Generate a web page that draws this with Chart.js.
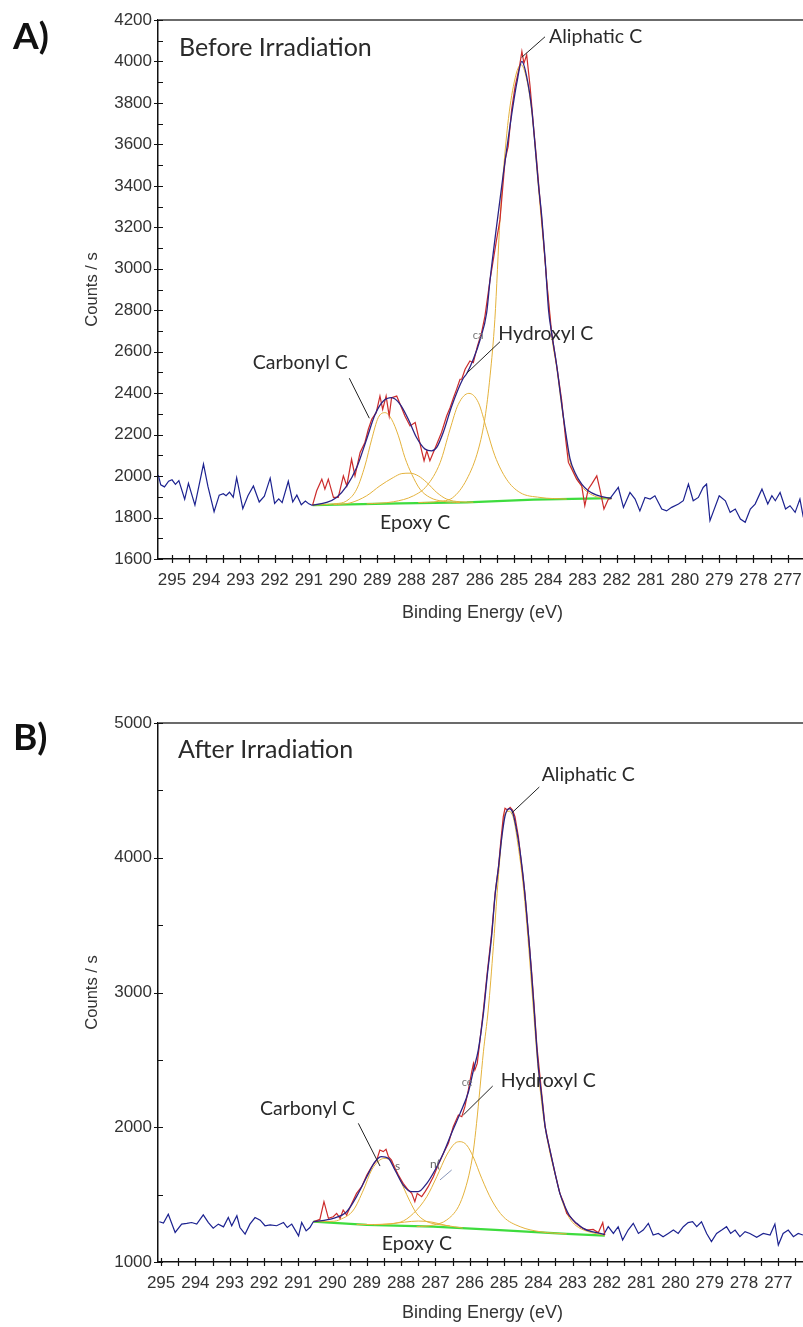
<!DOCTYPE html>
<html>
<head>
<meta charset="utf-8">
<script src="https://cdn.jsdelivr.net/npm/chart.js@4.4.0/dist/chart.umd.min.js"></script>
<style>
  html, body { margin: 0; padding: 0; background: #fff; }
  body { width: 803px; height: 1327px; position: relative; overflow: hidden; }
  canvas { position: absolute; left: 0; }
  #panelA { top: 0; }
  #panelB { top: 660px; }
</style>
</head>
<body>
<canvas id="panelA" width="815" height="650"></canvas>
<canvas id="panelB" width="815" height="667"></canvas>
<script>
// ---------- C 1s spectrum before irradiation (panel A) ----------
// [binding energy (eV), counts/s]
const rawLeftA = [
  [295.40,2005],[295.33,1958],[295.22,1948],[295.10,1975],[295.00,1982],[294.90,1960],[294.80,1978],
  [294.63,1888],[294.52,1965],[294.33,1860],[294.08,2058],[293.95,1950],[293.77,1828],[293.62,1908],
  [293.50,1915],[293.42,1905],[293.32,1922],[293.21,1898],[293.11,1992],[292.93,1843],[292.78,1905],
  [292.62,1952],[292.45,1875],[292.30,1903],[292.13,1990],[292.00,1868],[291.88,1890],[291.78,1872],
  [291.60,1975],[291.47,1875],[291.35,1908],[291.22,1862],[291.10,1880],[291.00,1866],[290.89,1858]
];
const rawRightA = [
  [282.19,1892],[281.95,1945],[281.80,1849],[281.61,1921],[281.46,1889],[281.32,1832],[281.17,1897],
  [281.02,1889],[280.88,1905],[280.68,1841],[280.54,1832],[280.39,1849],[280.19,1865],[280.05,1881],
  [279.90,1961],[279.76,1881],[279.61,1897],[279.47,1945],[279.37,1961],[279.27,1785],[279.00,1905],
  [278.82,1881],[278.68,1825],[278.53,1841],[278.38,1793],[278.24,1777],[278.09,1841],[277.95,1865],
  [277.75,1937],[277.58,1865],[277.46,1905],[277.36,1881],[277.22,1921],[277.06,1841],[276.93,1857],
  [276.78,1825],[276.64,1889],[276.54,1801]
];
const regionA = [
  [290.89,1860],[290.77,1929],[290.62,1985],[290.53,1937],[290.43,1985],[290.28,1897],[290.14,1897],
  [289.99,2001],[289.89,1953],[289.75,2081],[289.65,2001],[289.50,2114],[289.36,2162],[289.26,2226],
  [289.16,2274],[289.03,2306],[288.92,2386],[288.84,2322],[288.74,2386],[288.65,2290],[288.58,2378],
  [288.43,2386],[288.33,2346],[288.19,2290],[288.04,2242],[287.89,2258],[287.80,2194],[287.70,2122],
  [287.63,2074],[287.55,2122],[287.46,2074],[287.36,2114],[287.26,2154],[287.12,2210],[286.97,2290],
  [286.87,2330],[286.77,2378],[286.68,2418],[286.58,2467],[286.53,2467],[286.43,2515],[286.29,2555],
  [286.19,2547],[286.07,2627],[285.95,2691],[285.85,2772],[285.70,2948],[285.51,3141],[285.41,3237],
  [285.26,3526],[285.17,3590],[285.07,3767],[284.97,3879],[284.84,3975],[284.77,4048],[284.71,3991],
  [284.63,4032],[284.53,3879],[284.43,3687],[284.34,3526],[284.24,3333],[284.14,3141],[284.04,2932],
  [283.90,2691],[283.75,2531],[283.61,2370],[283.49,2178],[283.41,2066],[283.31,2033],[283.17,1985],
  [283.02,1953],[282.93,1857],[282.83,1937],[282.73,1961],[282.58,2001],[282.49,1937],[282.37,1841],
  [282.24,1889],[282.15,1892]
];
const envelopeA = [
  [290.89,1860],[290.48,1873],[290.19,1897],[289.89,1953],[289.60,2041],[289.31,2178],[289.06,2298],
  [288.82,2362],[288.58,2378],[288.33,2346],[288.09,2274],[287.85,2186],[287.60,2130],[287.41,2122],
  [287.26,2138],[287.07,2210],[286.82,2338],[286.50,2467],[286.38,2495],[286.19,2563],[285.99,2659],
  [285.80,2788],[285.70,2948],[285.51,3205],[285.31,3462],[285.12,3686],[284.92,3895],[284.77,4000],
  [284.63,3927],[284.48,3767],[284.39,3606],[284.29,3414],[284.19,3253],[284.09,3044],[283.99,2800],
  [283.90,2691],[283.75,2531],[283.65,2403],[283.56,2290],[283.46,2178],[283.36,2082],[283.22,2017],
  [283.02,1961],[282.83,1929],[282.58,1908],[282.15,1892]
];
const carbonylA = [
  [290.87,1860],[290.28,1866],[289.89,1881],[289.60,1937],[289.36,2049],[289.16,2178],[288.97,2282],
  [288.77,2306],[288.58,2274],[288.38,2194],[288.19,2089],[287.99,2009],[287.75,1937],[287.46,1897],
  [287.07,1878],[286.58,1872]
];
const epoxyA = [
  [290.28,1862],[289.80,1870],[289.31,1905],[288.92,1953],[288.53,1993],[288.28,2012],[288.04,2014],
  [287.80,2001],[287.55,1969],[287.26,1921],[286.97,1889],[286.58,1876],[286.19,1874]
];
const hydroxylA = [
  [289.31,1866],[288.53,1876],[287.94,1905],[287.55,1953],[287.16,2065],[286.87,2226],[286.63,2346],
  [286.32,2399],[286.04,2354],[285.80,2226],[285.56,2098],[285.22,1985],[284.83,1921],[284.24,1897],
  [283.46,1889]
];
const aliphaticA = [
  [287.80,1872],[287.20,1878],[286.80,1895],[286.38,1985],[286.04,2130],[285.85,2280],[285.70,2483],
  [285.56,2756],[285.41,3237],[285.21,3654],[285.02,3879],[284.80,3985],[284.63,3915],[284.48,3755],
  [284.29,3400],[284.09,3030],[283.90,2680],[283.75,2520],[283.56,2280],[283.36,2070],[283.22,2005],
  [283.02,1950],[282.83,1920],[282.58,1900],[282.15,1891]
];
const backgroundA = [[290.89,1860],[288.33,1868],[286.38,1873],[284.43,1886],[282.15,1894]];

// ---------- C 1s spectrum after irradiation (panel B) ----------
const rawLeftB = [
  [295.05,1299],[294.93,1289],[294.79,1354],[294.59,1219],[294.40,1281],[294.25,1286],[294.11,1293],
  [293.96,1281],[293.77,1350],[293.62,1293],[293.48,1251],[293.33,1281],[293.18,1261],[293.04,1330],
  [292.94,1269],[292.79,1343],[292.70,1256],[292.55,1207],[292.41,1281],[292.26,1330],[292.11,1310],
  [291.97,1269],[291.82,1276],[291.63,1269],[291.43,1293],[291.32,1256],[291.19,1281],[290.99,1194],
  [290.90,1293],[290.77,1231],[290.66,1256],[290.56,1299]
];
const rawRightB = [
  [282.10,1200],[281.96,1262],[281.81,1212],[281.67,1262],[281.54,1163],[281.38,1237],[281.23,1287],
  [281.08,1212],[280.94,1237],[280.79,1287],[280.65,1200],[280.50,1212],[280.36,1188],[280.21,1212],
  [280.06,1237],[279.92,1212],[279.77,1262],[279.63,1292],[279.50,1299],[279.38,1262],[279.24,1299],
  [279.09,1212],[278.95,1151],[278.80,1212],[278.65,1237],[278.51,1262],[278.39,1212],[278.26,1237],
  [278.12,1188],[277.97,1225],[277.83,1212],[277.63,1183],[277.44,1212],[277.24,1200],[277.10,1282],
  [277.00,1126],[276.86,1212],[276.71,1237],[276.56,1188],[276.42,1212],[276.28,1200]
];
const regionB = [
  [290.56,1299],[290.37,1316],[290.25,1448],[290.12,1324],[289.98,1336],[289.88,1361],[289.78,1324],
  [289.69,1386],[289.59,1349],[289.44,1435],[289.30,1509],[289.15,1559],[289.00,1646],[288.86,1707],
  [288.71,1757],[288.62,1831],[288.52,1819],[288.44,1836],[288.37,1782],[288.28,1757],[288.18,1695],
  [288.08,1646],[287.94,1584],[287.79,1534],[287.69,1509],[287.60,1448],[287.53,1509],[287.40,1485],
  [287.30,1522],[287.21,1559],[287.06,1633],[286.92,1720],[286.77,1806],[286.62,1881],[286.48,2004],
  [286.33,2091],[286.23,2078],[286.14,2153],[286.04,2276],[285.94,2412],[285.89,2474],[285.85,2425],
  [285.78,2474],[285.70,2647],[285.60,2870],[285.49,3142],[285.36,3439],[285.26,3736],[285.16,3933],
  [285.09,4131],[285.02,4305],[284.97,4367],[284.90,4354],[284.82,4374],[284.75,4354],[284.68,4305],
  [284.58,4156],[284.48,3933],[284.39,3736],[284.29,3439],[284.19,3142],[284.12,2895],[284.04,2600],
  [283.96,2400],[283.88,2200],[283.80,2004],[283.66,1831],[283.51,1658],[283.37,1509],[283.27,1448],
  [283.17,1361],[283.07,1336],[282.92,1290],[282.78,1262],[282.59,1237],[282.40,1242],[282.25,1218],
  [282.12,1292],[282.06,1200]
];
const envelopeB = [
  [290.56,1299],[289.98,1324],[289.59,1373],[289.30,1485],[289.00,1633],[288.76,1745],[288.57,1782],
  [288.37,1769],[288.18,1683],[287.94,1571],[287.69,1522],[287.50,1522],[287.25,1584],[287.01,1683],
  [286.77,1806],[286.53,1955],[286.28,2103],[286.04,2260],[285.89,2425],[285.75,2573],[285.60,2845],
  [285.49,3120],[285.36,3420],[285.26,3720],[285.16,3930],[285.06,4160],[284.97,4310],[284.85,4365],
  [284.75,4340],[284.65,4230],[284.55,4080],[284.45,3880],[284.35,3620],[284.25,3320],[284.14,2944],
  [284.00,2450],[283.90,2227],[283.80,2004],[283.66,1831],[283.51,1658],[283.37,1509],[283.22,1410],
  [283.07,1336],[282.88,1287],[282.69,1250],[282.44,1225],[282.20,1212],[282.06,1205]
];
const carbonylB = [
  [290.56,1299],[289.98,1302],[289.78,1315],[289.39,1386],[289.10,1534],[288.86,1683],[288.62,1757],
  [288.47,1769],[288.28,1745],[288.13,1670],[287.94,1559],[287.74,1448],[287.55,1361],[287.30,1306],
  [286.96,1280],[286.58,1268]
];
const epoxyB = [
  [289.30,1279],[288.80,1278],[288.30,1284],[287.90,1296],[287.50,1304],[287.10,1296],[286.70,1272],
  [286.20,1252]
];
const hydroxylB = [
  [288.80,1276],[288.03,1295],[287.64,1361],[287.25,1485],[286.96,1633],[286.67,1794],[286.43,1881],
  [286.28,1893],[286.09,1868],[285.90,1782],[285.65,1621],[285.36,1460],[285.02,1336],[284.53,1262],
  [283.95,1225],[283.17,1208]
];
const aliphaticB = [
  [287.55,1262],[287.06,1274],[286.67,1312],[286.33,1410],[286.14,1534],[285.99,1683],[285.89,1831],
  [285.80,2029],[285.70,2290],[285.60,2560],[285.46,2870],[285.31,3340],[285.20,3736],[285.09,4082],
  [284.97,4329],[284.85,4345],[284.72,4290],[284.60,4110],[284.45,3820],[284.30,3400],[284.15,2900],
  [284.00,2420],[283.85,2080],[283.70,1860],[283.50,1640],[283.30,1450],[283.10,1330],[282.90,1270],
  [282.60,1230],[282.30,1210],[282.06,1198]
];
const backgroundB = [[290.56,1299],[289.00,1275],[287.06,1262],[285.12,1237],[283.17,1208],[282.06,1195]];

// ---------- axis ticks ----------
const energyTicks = [295,294,293,292,291,290,289,288,287,286,285,284,283,282,281,280,279,278,277];
const energyMinorTicks = [294.5,293.5,292.5,291.5,290.5,289.5,288.5,287.5,286.5,285.5,284.5,283.5,282.5,281.5,280.5,279.5,278.5,277.5,276.5];
const countTicksA = [1600,1800,2000,2200,2400,2600,2800,3000,3200,3400,3600,3800,4000,4200];
const countMinorA = [1700,1900,2100,2300,2500,2700,2900,3100,3300,3500,3700,3900,4100];
const countTicksB = [1000,2000,3000,4000,5000];
const countMinorB = [1500,2500,3500,4500];

// ---------- styling ----------
const COL = {
  raw: '#1c2290',
  env: '#2b2384',
  region: '#cc2b2b',
  comp: '#e4b23c',
  bg: '#3edc3e',
  text: '#333333',
  note: '#2a2a2a'
};
const SANS = "'Liberation Sans', Arial, sans-serif";
const CAL = "Lato, 'Open Sans', sans-serif";
const PLOT_RIGHT_PAD = 12;   // canvas runs past the page edge by this much

const xy = pairs => pairs.map(([x, y]) => ({ x, y }));

function line(data, color, width, smooth) {
  return {
    data: xy(data), borderColor: color, borderWidth: width, pointRadius: 0,
    fill: false, tension: 0, cubicInterpolationMode: smooth ? 'monotone' : 'default'
  };
}

const decor = {
  id: 'decor',
  afterDraw(chart, _a, o) {
    const { ctx, chartArea: ca } = chart;
    const sx = chart.scales.x, sy = chart.scales.y;
    ctx.save();
    // upper frame line
    ctx.strokeStyle = '#6b6b6b'; ctx.lineWidth = 2;
    ctx.beginPath(); ctx.moveTo(ca.left, ca.top); ctx.lineTo(ca.right + PLOT_RIGHT_PAD, ca.top); ctx.stroke();
    // tick marks crossing both axes
    ctx.strokeStyle = '#111'; ctx.lineWidth = 1.2;
    ctx.beginPath();
    o.xTicks.forEach(v => {
      const px = Math.round(sx.getPixelForValue(v)) + 0.5;
      if (px < ca.left + 1 || px > ca.right) return;
      ctx.moveTo(px, ca.bottom - 4); ctx.lineTo(px, ca.bottom + 4);
    });
    o.yMajor.forEach(v => {
      const py = Math.round(sy.getPixelForValue(v)) + 0.5;
      ctx.moveTo(ca.left - 4, py); ctx.lineTo(ca.left + 5, py);
    });
    o.yMinor.forEach(v => {
      const py = Math.round(sy.getPixelForValue(v)) + 0.5;
      ctx.moveTo(ca.left - 1, py); ctx.lineTo(ca.left + 5, py);
    });
    ctx.stroke();

    // axis titles
    ctx.fillStyle = COL.text;
    ctx.font = `18px ${SANS}`;
    ctx.textAlign = 'center'; ctx.textBaseline = 'middle';
    ctx.fillText('Binding Energy (eV)', (ca.left + ca.right) / 2 + 2, ca.bottom + o.xTitleGap);
    ctx.save();
    ctx.translate(o.yTitleX, (ca.top + ca.bottom) / 2);
    ctx.rotate(-Math.PI / 2);
    ctx.font = `16.5px ${SANS}`;
    ctx.fillText('Counts / s', 0, 0);
    ctx.restore();

    // panel tag and heading
    ctx.fillStyle = '#111';
    ctx.textAlign = 'left';
    ctx.font = `bold 37px ${CAL}`;
    ctx.fillText(o.tag.text, o.tag.x, o.tag.y);
    ctx.fillStyle = COL.note;
    ctx.font = `${o.heading.size}px ${CAL}`;
    ctx.fillText(o.heading.text, sx.getPixelForValue(o.heading.at[0]), sy.getPixelForValue(o.heading.at[1]));

    // peak labels with leader lines
    o.notes.forEach(n => {
      ctx.fillStyle = n.color || COL.note;
      ctx.font = `${n.size || 19.5}px ${CAL}`;
      ctx.textAlign = 'left'; ctx.textBaseline = 'middle';
      ctx.fillText(n.text, sx.getPixelForValue(n.at[0]), sy.getPixelForValue(n.at[1]));
    });
    o.leaders.forEach(l => {
      ctx.strokeStyle = l.color || '#222'; ctx.lineWidth = 1;
      ctx.beginPath();
      ctx.moveTo(sx.getPixelForValue(l.from[0]), sy.getPixelForValue(l.from[1]));
      ctx.lineTo(sx.getPixelForValue(l.to[0]), sy.getPixelForValue(l.to[1]));
      ctx.stroke();
    });
    ctx.restore();
  }
};

function panel(id, p) {
  new Chart(document.getElementById(id), {
    type: 'line',
    data: {
      datasets: [
        line(p.envelope, COL.env, 1.3, true),
        line(p.region, COL.region, 1.2, false),
        line(p.rawLeft, COL.raw, 1.2, false),
        line(p.rawRight, COL.raw, 1.2, false),
        line(p.carbonyl, COL.comp, 1, true),
        line(p.epoxy, COL.comp, 1, true),
        line(p.hydroxyl, COL.comp, 1, true),
        line(p.aliphatic, COL.comp, 1, true),
        line(p.background, COL.bg, 2.2, false)
      ]
    },
    options: {
      responsive: false, animation: false, devicePixelRatio: 1, events: [],
      layout: { padding: { top: p.padTop, left: 0, right: PLOT_RIGHT_PAD, bottom: 0 }, autoPadding: false },
      plugins: { legend: { display: false }, tooltip: { enabled: false }, decor: p.decor },
      scales: {
        x: {
          type: 'linear', reverse: true, min: p.xMin, max: p.xMax,
          grid: { display: false, drawTicks: false },
          border: { display: true, color: '#111', width: 1.5 },
          ticks: { font: { family: SANS, size: 17 }, color: COL.text, padding: 11, maxRotation: 0, autoSkip: false,
                   callback: v => String(v) },
          afterBuildTicks: s => { s.ticks = energyTicks.filter(v => v <= p.xMax && v >= p.xMin).map(v => ({ value: v })); },
          afterFit: s => { s.height = p.xAxisHeight; }
        },
        y: {
          type: 'linear', min: p.yMin, max: p.yMax,
          grid: { display: false, drawTicks: false },
          border: { display: true, color: '#111', width: 1.5 },
          ticks: { font: { family: SANS, size: 17 }, color: COL.text, padding: 6, autoSkip: false,
                   callback: v => String(v) },
          afterBuildTicks: s => { s.ticks = p.yTicks.map(v => ({ value: v })); },
          afterFit: s => { s.width = 158; }
        }
      }
    },
    plugins: [decor]
  });
}

const allEnergyTicks = energyTicks.concat(energyMinorTicks);

panel('panelA', {
  xMin: 276.55, xMax: 295.41, yMin: 1600, yMax: 4200, yTicks: countTicksA,
  padTop: 20, xAxisHeight: 91,
  envelope: envelopeA, region: regionA, rawLeft: rawLeftA, rawRight: rawRightA,
  carbonyl: carbonylA, epoxy: epoxyA, hydroxyl: hydroxylA, aliphatic: aliphaticA, background: backgroundA,
  decor: {
    xTicks: allEnergyTicks, yMajor: countTicksA, yMinor: countMinorA,
    xTitleGap: 54, yTitleX: 92,
    tag: { text: 'A)', x: 13, y: 37 },
    heading: { text: 'Before Irradiation', at: [294.795, 4066], size: 25 },
    notes: [
      { text: 'Aliphatic C', at: [283.977, 4119] },
      { text: 'Hydroxyl C', at: [285.459, 2687] },
      { text: 'Carbonyl C', at: [292.640, 2545] },
      { text: 'Epoxy C', at: [288.918, 1776] },
      { text: 'ca', at: [286.21, 2676], size: 11, color: '#777' }
    ],
    leaders: [
      { from: [284.094, 4119], to: [284.775, 4020] },
      { from: [285.41, 2648], to: [286.383, 2496] },
      { from: [289.816, 2472], to: [289.231, 2279] }
    ]
  }
});

panel('panelB', {
  xMin: 276.28, xMax: 295.09, yMin: 1000, yMax: 5000, yTicks: countTicksB,
  padTop: 63, xAxisHeight: 65,
  envelope: envelopeB, region: regionB, rawLeft: rawLeftB, rawRight: rawRightB,
  carbonyl: carbonylB, epoxy: epoxyB, hydroxyl: hydroxylB, aliphatic: aliphaticB, background: backgroundB,
  decor: {
    xTicks: allEnergyTicks, yMajor: countTicksB, yMinor: countMinorB,
    xTitleGap: 51, yTitleX: 92,
    tag: { text: 'B)', x: 13, y: 78 },
    heading: { text: 'After Irradiation', at: [294.504, 4800], size: 25 },
    notes: [
      { text: 'Aliphatic C', at: [283.901, 4618] },
      { text: 'Hydroxyl C', at: [285.096, 2342] },
      { text: 'Carbonyl C', at: [292.114, 2137] },
      { text: 'Epoxy C', at: [288.566, 1139] },
      { text: 'ce', at: [286.233, 2336], size: 11, color: '#777' },
      { text: 's', at: [288.178, 1712], size: 12, color: '#666' },
      { text: 'n(', at: [287.157, 1727], size: 12, color: '#666' }
    ],
    leaders: [
      { from: [283.97, 4525], to: [284.775, 4332] },
      { from: [285.329, 2306], to: [286.186, 2091] },
      { from: [289.248, 2029], to: [288.615, 1712] },
      { from: [286.866, 1609], to: [286.525, 1683], color: '#8896b8' }
    ]
  }
});
</script>
</body>
</html>
